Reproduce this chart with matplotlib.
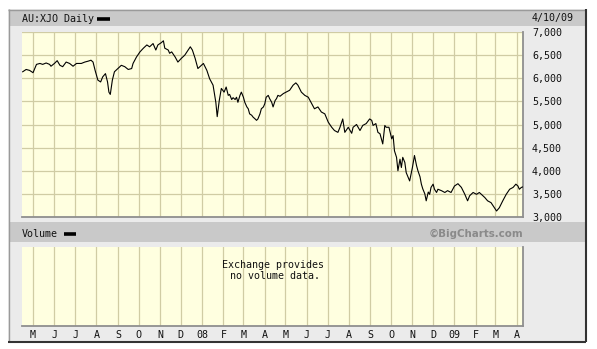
import matplotlib
matplotlib.use('Agg')
import matplotlib.pyplot as plt
from matplotlib.patches import Rectangle
from matplotlib.lines import Line2D
import pandas as pd

# ---------------- data ----------------
base_date = pd.Timestamp('2007-05-01')
day_offsets = [-15, -10, -5, 0, 5, 10, 14, 19, 24, 26, 31, 35, 39, 43, 48, 53, 58, 63, 70, 75,
               80, 84, 87, 90, 94, 98, 101, 105, 108, 110, 112, 115, 118, 123, 128, 133, 138, 143, 145, 150,
               155, 160, 165, 169, 174, 178, 181, 186, 189, 191, 196, 198, 201, 206, 210, 215, 220, 225, 228, 231,
               235, 239, 244, 247, 252, 256, 261, 265, 267, 270, 273, 277, 280, 283, 285, 288, 290, 293, 295, 297,
               300, 302, 305, 307, 310, 312, 314, 317, 319, 322, 324, 326, 329, 331, 334, 336, 338, 341, 343, 346,
               348, 351, 353, 355, 358, 363, 367, 372, 377, 381, 384, 389, 394, 399, 404, 408, 413, 418, 423, 428,
               433, 437, 442, 445, 449, 452, 457, 462, 464, 469, 474, 478, 483, 488, 491, 493, 497, 500, 503, 507,
               510, 512, 516, 520, 522, 524, 527, 529, 532, 534, 536, 539, 541, 544, 546, 550, 553, 556, 558, 561,
               563, 565, 568, 570, 573, 575, 577, 580, 582, 585, 587, 592, 597, 601, 606, 611, 616, 621, 626, 630,
               633, 638, 643, 647, 650, 655, 659, 664, 669, 672, 676, 681, 686, 691, 696, 700, 703, 705, 708, 710]
closes = [6140, 6190, 6170, 6120, 6300, 6320, 6300, 6330, 6300, 6260, 6320, 6380, 6280, 6250, 6350, 6320, 6260, 6320, 6320, 6350,
          6370, 6390, 6350, 6170, 5960, 5920, 6030, 6100, 5920, 5700, 5650, 5960, 6140, 6210, 6280, 6250, 6190, 6210, 6320, 6460,
          6570, 6650, 6720, 6680, 6750, 6610, 6720, 6770, 6810, 6650, 6610, 6540, 6570, 6460, 6350, 6430, 6500, 6610, 6680, 6610,
          6430, 6210, 6280, 6320, 6170, 5990, 5850, 5480, 5170, 5520, 5780, 5700, 5810, 5630, 5650, 5540, 5580, 5540, 5590, 5480,
          5630, 5700, 5590, 5480, 5380, 5340, 5230, 5200, 5160, 5120, 5090, 5120, 5230, 5340, 5380, 5450, 5590, 5630, 5560, 5480,
          5380, 5520, 5560, 5630, 5610, 5670, 5700, 5740, 5850, 5900, 5850, 5700, 5630, 5590, 5450, 5340, 5380, 5270, 5230, 5050,
          4940, 4870, 4830, 4940, 5120, 4830, 4940, 4810, 4940, 5000, 4870, 4980, 5020, 5120, 5090, 4980, 5020, 4830, 4800, 4580,
          4980, 4940, 4940, 4690, 4760, 4430, 4290, 4000, 4250, 4070, 4290, 4180, 3960, 3850, 3780, 4070, 4330, 4110, 4000, 3870,
          3710, 3610, 3500, 3350, 3540, 3490, 3640, 3710, 3600, 3530, 3600, 3570, 3530, 3570, 3530, 3670, 3720, 3640, 3490, 3350,
          3460, 3530, 3490, 3530, 3490, 3420, 3350, 3310, 3200, 3130, 3200, 3350, 3490, 3600, 3640, 3710, 3670, 3600, 3640, 3650]

y_ticks = [3000, 3500, 4000, 4500, 5000, 5500, 6000, 6500, 7000]
y_tick_labels = ['3,000', '3,500', '4,000', '4,500', '5,000', '5,500', '6,000', '6,500', '7,000']
month_starts = pd.date_range('2007-05-01', '2009-04-01', freq='MS')
month_labels = ['M', 'J', 'J', 'A', 'S', 'O', 'N', 'D', '08', 'F', 'M', 'A',
                'M', 'J', 'J', 'A', 'S', 'O', 'N', 'D', '09', 'F', 'M', 'A']
x_range = [pd.Timestamp('2007-04-15'), pd.Timestamp('2009-04-10 08:00')]

title_text = 'AU:XJO Daily'
date_text = '4/10/09'
volume_text = 'Volume'
credit_text = '\u00a9BigCharts.com'
no_volume_text = 'Exchange provides\n no volume data.'

dates = base_date + pd.to_timedelta(day_offsets, unit='D')

# ---------------- layout ----------------
W, H = 597, 349
MONO = ['DejaVu Sans Mono']
plt.rcParams['font.family'] = MONO

fig = plt.figure(figsize=(W / 100, H / 100), dpi=100)
fig.patch.set_facecolor('white')


def box(x0, y0, x1, y1):
    return [x0 / W, 1 - y1 / H, (x1 - x0) / W, (y1 - y0) / H]


def rect(x0, y0, x1, y1, color, z=-5):
    fig.add_artist(Rectangle((x0 / W, 1 - y1 / H), (x1 - x0) / W, (y1 - y0) / H,
                             transform=fig.transFigure, fc=color, ec='none', zorder=z))


def hline(x0, x1, y, color, lw, z=5):
    fig.add_artist(Line2D([x0 / W, x1 / W], [1 - y / H, 1 - y / H],
                          transform=fig.transFigure, color=color, lw=lw, zorder=z,
                          solid_capstyle='butt'))


def vline(x, y0, y1, color, lw, z=5):
    fig.add_artist(Line2D([x / W, x / W], [1 - y0 / H, 1 - y1 / H],
                          transform=fig.transFigure, color=color, lw=lw, zorder=z,
                          solid_capstyle='butt'))


PANEL = '#ebebeb'
BAR = '#c9c9c9'
PLOT_BG = '#ffffe0'
GRID = '#d0cca4'
EDGE = '#8f8f8f'

# outer panel
rect(8, 9, 586, 342, PANEL)
rect(9, 10, 585, 26, BAR)
rect(9, 222, 585, 242, BAR)
# frame
hline(8, 586, 9.5, '#9a9a9a', 1.0)
vline(8.5, 9, 342, '#9a9a9a', 1.0)
vline(585.5, 9, 342, '#333333', 1.5)
hline(8, 586, 341.5, '#333333', 1.5)

# header texts
fig.text(22 / W, 1 - 18.5 / H, title_text, fontsize=7.2, va='center', ha='left', color='#111111')
hline(97, 110, 18.5, 'black', 2.6)
fig.text(532 / W, 1 - 18.5 / H, date_text, fontsize=7.2, va='center', ha='left', color='#111111')
fig.text(22 / W, 1 - 234 / H, volume_text, fontsize=7.2, va='center', ha='left', color='#111111')
hline(64, 76, 234, 'black', 2.6)
fig.text(523 / W, 1 - 234 / H, credit_text, fontsize=7.4, va='center', ha='right',
         color='#8a8a8a', fontweight='bold', family=['DejaVu Sans'])

# ---------------- price axes ----------------
ax = fig.add_axes(box(22, 32, 523, 217))
ax.set_facecolor(PLOT_BG)
ax.plot(dates, closes, color='black', lw=0.8, zorder=3)
ax.set_xlim(x_range)
ax.set_ylim(3000, 7000)
ax.set_yticks(y_ticks)
ax.set_yticklabels(y_tick_labels)
ax.yaxis.tick_right()
ax.set_xticks(month_starts)
ax.set_xticklabels([])
ax.tick_params(axis='both', length=0)
ax.tick_params(axis='y', pad=6.5, labelsize=7.2, labelcolor='#111111')
ax.grid(True, color=GRID, lw=0.9)
ax.set_axisbelow(True)
for s in ['top', 'left']:
    ax.spines[s].set_visible(False)
for s in ['bottom', 'right']:
    ax.spines[s].set_color(EDGE)
    ax.spines[s].set_linewidth(1.3)

# ---------------- volume axes ----------------
axv = fig.add_axes(box(22, 247, 523, 326))
axv.set_facecolor(PLOT_BG)
axv.set_xlim(x_range)
axv.set_ylim(0, 1)
axv.set_yticks([])
axv.set_xticks(month_starts)
axv.set_xticklabels(month_labels)
axv.tick_params(axis='x', length=0, pad=3, labelsize=7.2, labelcolor='#111111')
axv.grid(True, axis='x', color=GRID, lw=0.9)
axv.set_axisbelow(True)
for s in ['top', 'left']:
    axv.spines[s].set_visible(False)
for s in ['bottom', 'right']:
    axv.spines[s].set_color(EDGE)
    axv.spines[s].set_linewidth(1.3)
axv.text(0.5, 0.7, no_volume_text, transform=axv.transAxes, ha='center', va='center',
         fontsize=7.2, color='#111111', linespacing=1.1)

fig.savefig('out.png', dpi=100, facecolor='white')
